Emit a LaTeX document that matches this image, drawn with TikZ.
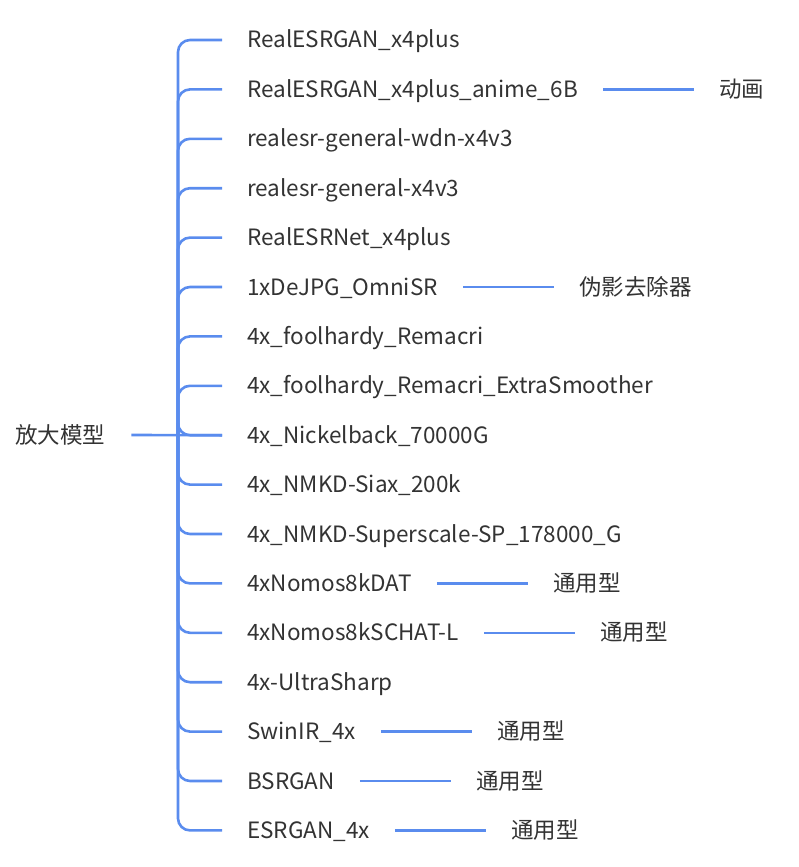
\documentclass[tikz,border=0pt]{standalone}
\usepackage{fontspec}
\setmainfont{Noto Sans CJK SC}
\usepackage{xcolor}
\usetikzlibrary{positioning}
\definecolor{linkblue}{RGB}{90,140,238}
\definecolor{txtgray}{RGB}{51,51,51}

\begin{document}
\begin{tikzpicture}[x=1pt,y=-1pt,
    link/.style={draw=linkblue, line width=2.6pt, rounded corners=12pt},
    item/.style={anchor=west, inner sep=0pt, text=txtgray, text height=16pt, text depth=0pt,
                 font=\fontsize{22.5}{27}\selectfont}]
    \useasboundingbox (0,0) rectangle (798,867);
    % root and trunk
    \node [item] (root) at (15,435) {放大模型};
    \coordinate (trunk) at (178,435);
    % models
    \foreach \t [count=\i from 0] in {RealESRGAN\_x4plus, RealESRGAN\_x4plus\_anime\_6B,
        realesr-general-wdn-x4v3, realesr-general-x4v3, RealESRNet\_x4plus, 1xDeJPG\_OmniSR,
        4x\_foolhardy\_Remacri, 4x\_foolhardy\_Remacri\_ExtraSmoother, 4x\_Nickelback\_70000G,
        4x\_NMKD-Siax\_200k, 4x\_NMKD-Superscale-SP\_178000\_G, 4xNomos8kDAT, 4xNomos8kSCHAT-L,
        4x-UltraSharp, SwinIR\_4x, BSRGAN, ESRGAN\_4x}
    {
        \node [item] (m\i) at (247,{40+49.4*\i}) {\t};
        \draw [link] (trunk) |- ([xshift=-25pt]m\i.west);
    }
    \draw [link] ([xshift=26pt]root.east) -- ([xshift=-25pt]m8.west);
    % notes
    \foreach \i/\t in {1/动画, 5/伪影去除器, 11/通用型, 12/通用型, 14/通用型, 15/通用型, 16/通用型}
    {
        \node [item, right=141pt of m\i] (n\i) {\t};
        \draw [link] ([xshift=25pt]m\i.east) -- ([xshift=-25pt]n\i.west);
    }
\end{tikzpicture}
\end{document}
